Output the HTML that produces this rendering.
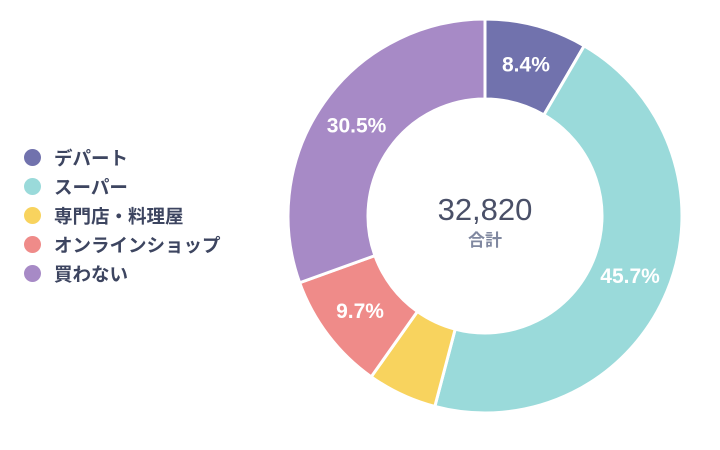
<!DOCTYPE html>
<html><head><meta charset="utf-8"><style>
body{margin:0;width:720px;height:450px;background:#fff;overflow:hidden;font-family:"Liberation Sans","Noto Sans CJK JP",sans-serif;}
.lg{position:absolute;left:24px;}
.lg div{height:29px;display:flex;align-items:center;font-size:18.5px;font-weight:bold;color:#3d4560;}
.lg span{display:inline-block;width:17px;height:17px;border-radius:50%;margin-right:13px;}
</style></head><body>
<div class="lg" style="top:143px">
<div><span style="background:#7172ad"></span>デパート</div>
<div><span style="background:#9adada"></span>スーパー</div>
<div><span style="background:#f8d35e"></span>専門店・料理屋</div>
<div><span style="background:#ef8b89"></span>オンラインショップ</div>
<div><span style="background:#a78ac6"></span>買わない</div>
</div>
<svg id="s" width="720" height="450" style="position:absolute;left:0;top:0">
</svg>
<script>
var cx=485,cy=216,R=197,r=117;
var d=[[8.4,"#7172ad","8.4%"],[45.7,"#9adada","45.7%"],[5.7,"#f8d35e",""],[9.7,"#ef8b89","9.7%"],[30.5,"#a78ac6","30.5%"]];
var s=document.getElementById('s'),a=0,h='';
function p(rad,ang){var t=(ang-90)*Math.PI/180;return (cx+rad*Math.cos(t)).toFixed(2)+','+(cy+rad*Math.sin(t)).toFixed(2);}
d.forEach(function(x){var b=a+x[0]*3.6,l=(b-a)>180?1:0;
h+='<path d="M'+p(R,a)+' A'+R+','+R+' 0 '+l+' 1 '+p(R,b)+' L'+p(r,b)+' A'+r+','+r+' 0 '+l+' 0 '+p(r,a)+' Z" fill="'+x[1]+'" stroke="#fff" stroke-width="3"/>';
if(x[2]){var m=(a+b)/2,q=p((R+r)/2,m).split(',');h+='<text x="'+q[0]+'" y="'+(+q[1]+7)+'" text-anchor="middle" font-size="21" font-weight="bold" fill="#fff" font-family="Liberation Sans, sans-serif">'+x[2]+'</text>';}
a=b;});
h+='<text x="485" y="220" text-anchor="middle" font-size="31" fill="#4a5068" font-family="Liberation Sans, sans-serif">32,820</text>';
h+='<text x="485" y="246" text-anchor="middle" font-size="17" font-weight="bold" fill="#8088a0" font-family="Liberation Sans, Noto Sans CJK JP, sans-serif">合計</text>';
s.innerHTML=h;
</script>
</body></html>
